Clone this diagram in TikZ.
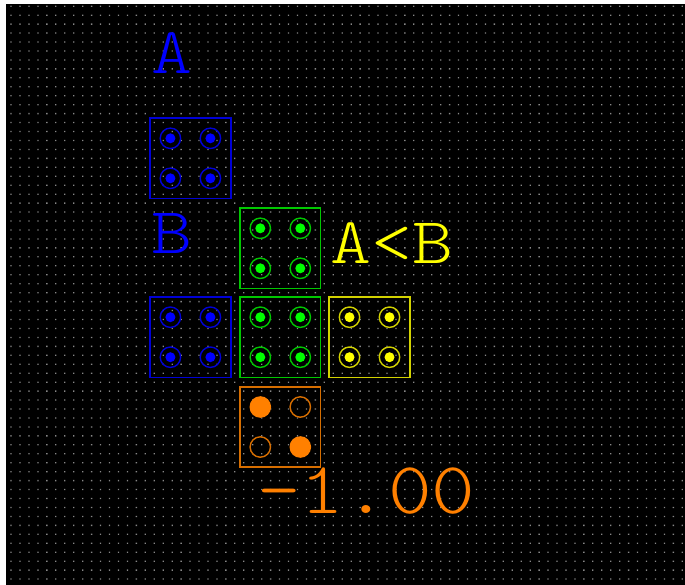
\documentclass[tikz,border=0pt]{standalone}
\usepackage{fontspec}
\newfontfamily\monoA[FakeStretch=1.19]{Latin Modern Mono Light}
\newfontfamily\monoB[FakeStretch=1.13]{Latin Modern Mono Light}
\definecolor{dotc}{RGB}{135,135,135}
\definecolor{bluD}{RGB}{0,0,255}
\definecolor{bluR}{RGB}{0,0,215}
\definecolor{grnD}{RGB}{0,255,0}
\definecolor{grnR}{RGB}{0,200,0}
\definecolor{yelD}{RGB}{255,255,0}
\definecolor{yelR}{RGB}{210,210,0}
\definecolor{oraD}{RGB}{255,128,0}
\definecolor{oraR}{RGB}{215,110,0}
\newcommand\mkpads[3]{%
  \foreach \dx in {-20,20}{\foreach \dy in {-20,20}{%
    \draw[#3, line width=1.4] (#1.center) ++(\dx,\dy) circle (10.2);
    \fill[#2] (#1.center) ++(\dx,\dy) circle (5);
  }}}
\begin{document}
\begin{tikzpicture}[x=1pt,y=-1pt,
  cell/.style={draw=#1, line width=1.7, rectangle, minimum size=80.5, inner sep=0},
  lbl/.style={inner sep=0, anchor=base west, font=\monoA\fontsize{65.5}{65.5}\selectfont}]
\useasboundingbox (0,0) rectangle (685,585);
\fill[white] (0,0) rectangle (685,585);
\fill[black] (6,4) rectangle (685,585);
\foreach \i in {0,...,75}{%
  \pgfmathsetmacro\xx{10.4+8.95*\i}
  \fill[dotc] \foreach \j in {0,...,64}{ (\xx,5.6+8.95*\j) rectangle ++(1.3,1.3) };
}
% cells
\node[cell=bluR] (c1) at (190.4,158.3) {};
\node[cell=grnR] (c2) at (280.3,248.3) {};
\node[cell=bluR] (c3) at (190.4,337.2) {};
\node[cell=grnR] (c4) at (280.3,337.2) {};
\node[cell=yelR] (c5) at (369.5,337.2) {};
\node[cell=oraR] (c6) at (280.3,427) {};
\mkpads{c1}{bluD}{bluR}
\mkpads{c2}{grnD}{grnR}
\mkpads{c3}{bluD}{bluR}
\mkpads{c4}{grnD}{grnR}
\mkpads{c5}{yelD}{yelR}
\fill[oraD] (c6.center) ++(-20,-20) circle (10.8);
\fill[oraD] (c6.center) ++(20,20) circle (10.8);
\draw[oraR, line width=1.4] (c6.center) ++(20,-20) circle (10.2);
\draw[oraR, line width=1.4] (c6.center) ++(-20,20) circle (10.2);
% labels
\node[lbl, text=bluD] (tA) at (151,74) {A};
\node[lbl, text=bluD] (tB) at (151,253.3) {B};
\node[lbl, text=yelD] (tAB) at (330,264) {A<B};
\node[lbl, text=oraD, font=\monoB\fontsize{73.5}{73.5}\selectfont] (tV) at (257,513) {-1.00};
\end{tikzpicture}
\end{document}
